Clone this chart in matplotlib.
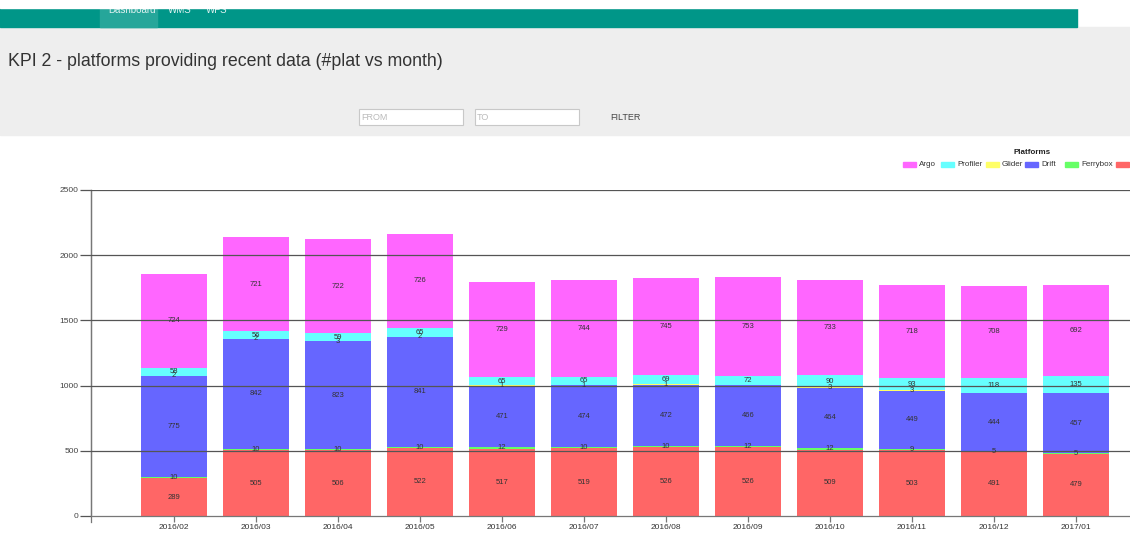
import numpy as np
import matplotlib.pyplot as plt
from matplotlib.patches import Rectangle

plt.rcParams['font.family'] = ['Liberation Sans', 'DejaVu Sans']

months = ['2016/02', '2016/03', '2016/04', '2016/05', '2016/06', '2016/07',
          '2016/08', '2016/09', '2016/10', '2016/11', '2016/12', '2017/01']

# stacked bottom -> top
other = [289, 505, 506, 522, 517, 519, 526, 526, 509, 503, 491, 479]
ferrybox = [10, 10, 10, 10, 12, 10, 10, 12, 12, 9, 5, 5]
drift = [775, 842, 823, 841, 471, 474, 472, 466, 464, 449, 444, 457]
glider = [2, 2, 3, 2, 1, 1, 1, 0, 3, 3, 0, 0]
profiler = [58, 56, 59, 65, 65, 65, 69, 72, 90, 93, 118, 135]
argo = [724, 721, 722, 726, 729, 744, 745, 753, 733, 718, 708, 692]

series = [other, ferrybox, drift, glider, profiler, argo]
colors = ['#ff6666', '#66ff66', '#6666ff', '#ffff66', '#66ffff', '#ff66ff']

legend_names = ['Argo', 'Profiler', 'Glider', 'Drift', 'Ferrybox', '']
legend_colors = ['#ff66ff', '#66ffff', '#ffff66', '#6666ff', '#66ff66', '#ff6666']

W, H = 1130, 535
fig = plt.figure(figsize=(W / 100, H / 100), dpi=100)

# page chrome in pixel coordinates
page = fig.add_axes([0, 0, 1, 1])
page.set_xlim(0, W)
page.set_ylim(H, 0)
page.axis('off')
page.add_patch(Rectangle((0, 27), W, 108, color='#eeeeee', zorder=0))
page.add_patch(Rectangle((0, 8), 1077, 19, color='#009688', zorder=1))
page.add_patch(Rectangle((100, 8), 57, 19, color='#26a69a', zorder=1))
for label, x in [('Dashboard', 108), ('WMS', 168), ('WFS', 206)]:
    page.text(x, 10, label, color='#e0f2f1', fontsize=7, va='center', zorder=2)
page.add_patch(Rectangle((0, 0), W, 8, color='white', zorder=3))
page.text(8, 62, 'KPI 2 - platforms providing recent data (#plat vs month)',
          fontsize=12.8, color='#333333', va='center')
for label, x in [('FROM', 359), ('TO', 475)]:
    page.add_patch(Rectangle((x, 109), 104, 16, facecolor='white',
                             edgecolor='#c8c8c8', lw=0.8))
    page.text(x + 2, 117.5, label, fontsize=6.5, color='#bbbbbb', va='center')
page.text(610, 117.5, 'FILTER', fontsize=6.5, color='#444444', va='center')

# legend
page.text(1032, 153, 'Platforms', fontsize=5.8, fontweight='bold',
          ha='center', va='center', color='#222222')
swatch_x = [903, 941, 986, 1025, 1065, 1116]
for name, c, x in zip(legend_names, legend_colors, swatch_x):
    page.add_patch(Rectangle((x, 161.5), 13, 5, color=c))
    page.text(x + 16, 164, name, fontsize=5.8, va='center', color='#333333')

# left axis line extension below zero
page.plot([91, 91], [190, 522], color='#777777', lw=0.9)

# chart
ax = fig.add_axes([91 / W, (H - 516) / H, (W - 91) / W, (516 - 190) / H])
ax.patch.set_alpha(0)
x = np.arange(len(months))
bottom = np.zeros(len(months))
for vals, c in zip(series, colors):
    vals = np.array(vals, dtype=float)
    ax.bar(x, vals, bottom=bottom, width=0.8, color=c, zorder=2)
    for xi, b, v in zip(x, bottom, vals):
        if v > 0:
            ax.text(xi, b + v / 2, str(int(v)), ha='center', va='center',
                    fontsize=5.5, color='#333333', zorder=4)
    bottom += vals

ax.set_xlim(-1.01, 11.66)
ax.set_ylim(0, 2500)
ax.set_yticks([0, 500, 1000, 1500, 2000, 2500])
ax.set_xticks(x)
ax.set_xticklabels(months)
for yv in [500, 1000, 1500, 2000, 2500]:
    ax.axhline(yv, color='#555555', lw=0.9, zorder=3)
ax.tick_params(axis='y', length=8, width=0.9, color='#555555',
               labelsize=6, labelcolor='#444444', pad=1)
ax.tick_params(axis='x', length=4, width=0.9, color='#777777',
               labelsize=6, labelcolor='#333333', pad=2)
for s in ['top', 'right']:
    ax.spines[s].set_visible(False)
ax.spines['left'].set_color('#777777')
ax.spines['bottom'].set_color('#777777')
ax.spines['left'].set_linewidth(0.9)
ax.spines['bottom'].set_linewidth(0.9)

fig.savefig('out.png', dpi=100)
